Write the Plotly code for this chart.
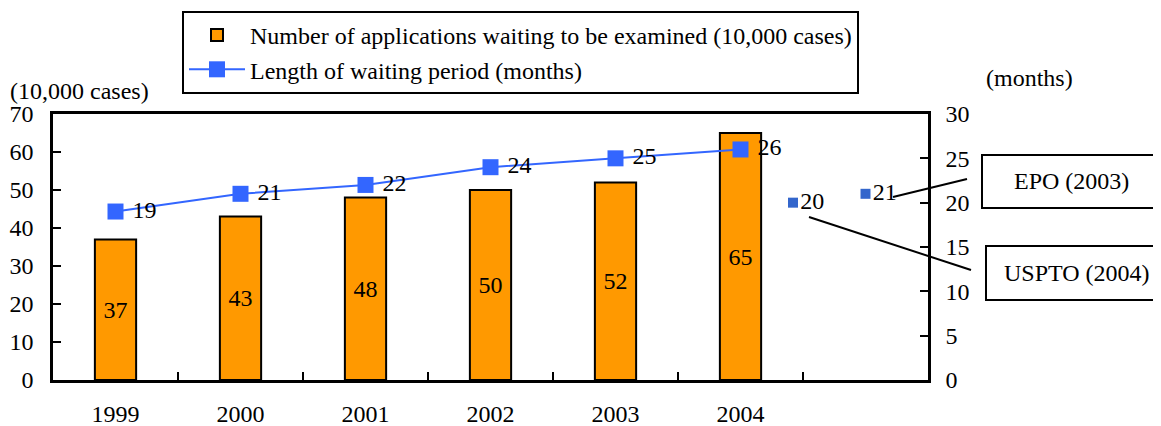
import plotly.graph_objects as go

years = ["1999", "2000", "2001", "2002", "2003", "2004"]
backlog = [37, 43, 48, 50, 52, 65]          # 10,000 cases
wait_months = [19, 21, 22, 24, 25, 26]      # months
intl_names = ["USPTO (2004)", "EPO (2003)"]
intl_months = [20, 21]

FONT = "Liberation Serif"
FS = 24

idx = list(range(len(years)))
n_slots = len(years) + 1
# positions of the international comparison points (slot index units)
intl_x = [len(years) - 1 + 0.42, len(years)]

fig = go.Figure()
fig.add_trace(go.Bar(
    x=idx, y=backlog, width=0.33,
    name="Number of applications waiting to be examined (10,000 cases)",
    marker=dict(color="#FF9900", line=dict(color="black", width=2)),
    text=[str(v) for v in backlog], textposition="inside",
    insidetextanchor="middle", textangle=0,
    textfont=dict(family=FONT, size=FS, color="black"),
    hoverinfo="skip",
))
fig.add_trace(go.Scatter(
    x=idx, y=wait_months, yaxis="y2", mode="lines+markers+text",
    name="Length of waiting period (months)",
    line=dict(color="#3366FF", width=2),
    marker=dict(symbol="square", size=16, color="#3366FF"),
    text=[" " + str(v) for v in wait_months], textposition="middle right",
    textfont=dict(family=FONT, size=FS, color="black"),
    hoverinfo="skip", cliponaxis=False,
))
fig.add_trace(go.Scatter(
    x=intl_x, y=intl_months, yaxis="y2", mode="markers+text",
    showlegend=False,
    marker=dict(symbol="square", size=10, color="#3366CC"),
    text=[str(v) for v in intl_months], textposition="middle right",
    textfont=dict(family=FONT, size=FS, color="black"),
    hoverinfo="skip", cliponaxis=False,
))

# page body margin shifts the figure by 8px; lay out in window pixels
O = 8
W, H = 1161 - O, 426 - O
L, R, T, B = 53 - O, 1161 - 928, 114 - O, 426 - 380
pw, ph = W - L - R, H - T - B

def px(xp):
    return (xp - O - L) / pw

def py(yp):
    return (H - B - (yp - O)) / ph

fig.update_layout(
    width=W, height=H, margin=dict(l=L, r=R, t=T, b=B, autoexpand=False),
    paper_bgcolor="white", plot_bgcolor="white",
    font=dict(family=FONT, size=FS, color="black"),
    showlegend=True,
    legend=dict(
        x=px(182), y=py(11), xanchor="left", yanchor="top",
        bordercolor="black", borderwidth=2, bgcolor="white",
        font=dict(family=FONT, size=FS), itemwidth=56,
    ),
    xaxis=dict(
        range=[-0.5, n_slots - 0.5], tickmode="array", tickvals=idx, ticktext=years,
        ticks="", showgrid=False, zeroline=False, automargin=False,
        showline=True, linecolor="black", linewidth=2.5, mirror=True,
        ticklabelstandoff=10,
        minor=dict(tickmode="array", tickvals=[i + 0.5 for i in range(n_slots - 1)],
                   ticks="inside", ticklen=8, tickwidth=2, tickcolor="black", showgrid=False),
    ),
    yaxis=dict(
        range=[0, 70], dtick=10, ticks="inside", ticklen=8, tickwidth=2, tickcolor="black",
        showgrid=False, zeroline=False, showline=True, linecolor="black", linewidth=2.5,
        ticklabelstandoff=12, automargin=False,
    ),
    yaxis2=dict(
        range=[0, 30], dtick=5, overlaying="y", side="right",
        ticks="inside", ticklen=8, tickwidth=2, tickcolor="black",
        showgrid=False, zeroline=False, showline=True, linecolor="black", linewidth=2.5,
        ticklabelstandoff=10, automargin=False,
    ),
    annotations=[
        dict(text="(10,000 cases)", xref="paper", yref="paper", x=px(8), y=py(91),
             xanchor="left", yanchor="middle", showarrow=False),
        dict(text="(months)", xref="paper", yref="paper", x=px(984), y=py(78),
             xanchor="left", yanchor="middle", showarrow=False),
        dict(text=intl_names[1], xref="paper", yref="paper", x=px(1071), y=py(181),
             xanchor="center", yanchor="middle", showarrow=False),
        dict(text=intl_names[0], xref="paper", yref="paper", x=px(1077), y=py(273),
             xanchor="center", yanchor="middle", showarrow=False),
    ],
    shapes=[
        dict(type="rect", xref="paper", yref="paper", x0=px(982), x1=px(1159),
             y0=py(155), y1=py(208), line=dict(color="black", width=2)),
        dict(type="rect", xref="paper", yref="paper", x0=px(986), x1=px(1165),
             y0=py(246), y1=py(300), line=dict(color="black", width=2)),
        dict(type="line", xref="paper", yref="paper", x0=px(893), y0=py(197),
             x1=px(967), y1=py(179), line=dict(color="black", width=2)),
        dict(type="line", xref="paper", yref="paper", x0=px(809), y0=py(217),
             x1=px(971), y1=py(270), line=dict(color="black", width=2)),
    ],
)

fig.write_html("out.html")
